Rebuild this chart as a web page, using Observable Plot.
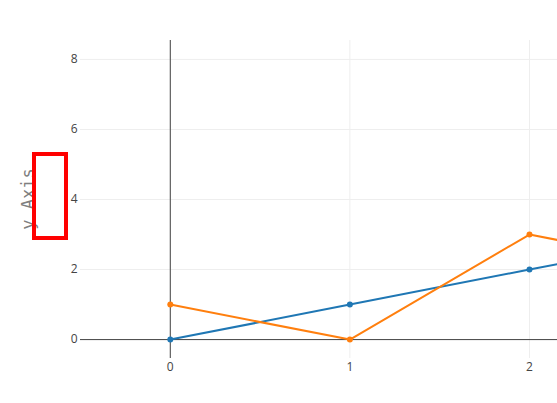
<!DOCTYPE html>
<html>
<head>
<meta charset="utf-8">
<script src="https://cdn.jsdelivr.net/npm/d3@7"></script>
<script src="https://cdn.jsdelivr.net/npm/@observablehq/plot@0.6"></script>
<style>
  html, body { margin: 0; padding: 0; background: #fff; }
  #chart svg { display: block; }
</style>
</head>
<body>
<div id="chart"></div>
<script>
const xValues = [0, 1, 2, 3];
const series1Values = [0, 1, 2, 3];
const series2Values = [1, 0, 3, 2];
const seriesNames = ["trace 0", "trace 1"];
const seriesColors = ["#1f77b4", "#ff7f0e"];
const xTicks = [0, 1, 2];
const yTicks = [0, 2, 4, 6, 8];
const yTitle = "y Axis";

const data = [
  ...xValues.map((x, i) => ({x, y: series1Values[i], s: seriesNames[0]})),
  ...xValues.map((x, i) => ({x, y: series2Values[i], s: seriesNames[1]}))
];

const W = 557, H = 403;
const chart = Plot.plot({
  width: W,
  height: H,
  marginLeft: 80,
  marginRight: 0,
  marginTop: 40,
  marginBottom: 45,
  style: {fontFamily: "'Open Sans', sans-serif", fontSize: "12px", color: "#444", background: "#fff"},
  x: {domain: [-0.5, 2.156], label: null},
  y: {domain: [-0.54, 8.54], label: null},
  color: {domain: seriesNames, range: seriesColors},
  marks: [
    Plot.gridX(xTicks, {stroke: "#eee", strokeOpacity: 1}),
    Plot.gridY(yTicks, {stroke: "#eee", strokeOpacity: 1}),
    Plot.ruleX([0], {stroke: "#444", strokeWidth: 1}),
    Plot.ruleY([0], {stroke: "#444", strokeWidth: 1}),
    Plot.axisX(xTicks, {tickSize: 0, tickPadding: 4, tickFormat: d => d, fill: "#444", fontSize: 12}),
    Plot.axisY(yTicks, {tickSize: 0, tickPadding: 3, tickFormat: d => d, fill: "#444", fontSize: 12}),
    Plot.line(data, {x: "x", y: "y", z: "s", stroke: "s", strokeWidth: 2}),
    Plot.dot(data, {x: "x", y: "y", fill: "s", r: 3})
  ]
});
document.getElementById("chart").appendChild(chart);

const svg = d3.select(chart);
const yScale = chart.scale("y");
const cy = (yScale.apply(yScale.domain[0]) + yScale.apply(yScale.domain[1])) / 2;
svg.append("text")
  .attr("transform", `translate(28,${cy}) rotate(-90)`)
  .attr("text-anchor", "middle")
  .attr("dominant-baseline", "central")
  .attr("font-family", "'DejaVu Sans Mono', monospace")
  .attr("font-size", 17)
  .attr("fill", "#7f7f7f")
  .text(yTitle);
svg.append("rect")
  .attr("x", 34).attr("y", 154)
  .attr("width", 32).attr("height", 84)
  .attr("fill", "none")
  .attr("stroke", "red")
  .attr("stroke-width", 4);
</script>
</body>
</html>
